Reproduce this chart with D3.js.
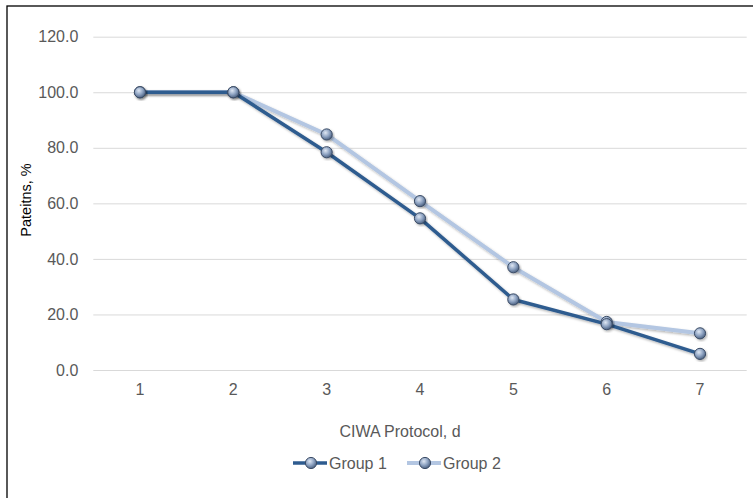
<!DOCTYPE html>
<html>
<head>
<meta charset="utf-8">
<script src="https://cdn.jsdelivr.net/npm/d3@7"></script>
<style>
  body { margin: 0; background: #fff; }
  text { font-family: "Liberation Sans", Arial, sans-serif; }
</style>
</head>
<body>
<div id="chart"></div>
<script>
// data
const days = [1, 2, 3, 4, 5, 6, 7];
const group1 = [100, 100, 78.4, 54.6, 25.4, 16.5, 5.8];
const group2 = [100, 100, 84.8, 60.8, 37.0, 17.3, 13.2];
const yTicks = [0, 20, 40, 60, 80, 100, 120];
const seriesNames = ["Group 1", "Group 2"];
const seriesColors = ["#2e5b8f", "#b3c6e2"];

const width = 753;
const height = 498;
const margin = { top: 36.7, right: 6.3, bottom: 128, left: 93.3 };
const plotW = width - margin.left - margin.right;
const plotH = height - margin.top - margin.bottom;
const fontFam = "Liberation Sans, Arial, sans-serif";

const svg = d3.select("#chart").append("svg")
  .attr("width", width)
  .attr("height", height);

// gradient + shadow for the round markers
const defs = svg.append("defs");
const grad = defs.append("radialGradient")
  .attr("id", "markerGrad")
  .attr("cx", "40%").attr("cy", "35%").attr("r", "65%");
grad.append("stop").attr("offset", "0%").attr("stop-color", "#dfe7f3");
grad.append("stop").attr("offset", "55%").attr("stop-color", "#8ea3c2");
grad.append("stop").attr("offset", "100%").attr("stop-color", "#4d6282");

const shadow = defs.append("filter").attr("id", "shadow")
  .attr("x", "-20%").attr("y", "-20%").attr("width", "140%").attr("height", "140%");
shadow.append("feDropShadow")
  .attr("dx", 1.2).attr("dy", 1.5).attr("stdDeviation", 1.2)
  .attr("flood-color", "#000").attr("flood-opacity", 0.3);

// outer frame (runs off the right and bottom edges)
svg.append("rect")
  .attr("x", 7).attr("y", 6)
  .attr("width", width + 10).attr("height", height + 10)
  .attr("fill", "none")
  .attr("stroke", "#000")
  .attr("stroke-width", 1.3);

const g = svg.append("g")
  .attr("transform", "translate(" + margin.left + "," + margin.top + ")");

const x = d3.scaleBand().domain(days).range([0, plotW]);
const y = d3.scaleLinear().domain([0, 120]).range([plotH, 0]);
const cx = d => x(d) + x.bandwidth() / 2;

// gridlines
g.append("g")
  .call(d3.axisLeft(y).tickValues(yTicks).tickSize(-plotW).tickFormat(""))
  .call(a => a.select(".domain").remove())
  .call(a => a.selectAll("line").attr("stroke", "#d9d9d9").attr("stroke-width", 1));

// y tick labels
g.append("g")
  .call(d3.axisLeft(y).tickValues(yTicks).tickSize(0).tickPadding(15)
    .tickFormat(d3.format(".1f")))
  .call(a => a.select(".domain").remove())
  .call(a => a.selectAll("text")
    .attr("fill", "#595959")
    .style("font-size", "16px")
    .style("font-family", fontFam));

// x tick labels
g.append("g")
  .attr("transform", "translate(0," + plotH + ")")
  .call(d3.axisBottom(x).tickSize(0).tickPadding(14))
  .call(a => a.select(".domain").remove())
  .call(a => a.selectAll("text")
    .attr("fill", "#595959")
    .style("font-size", "16px")
    .style("font-family", fontFam));

// axis titles
svg.append("text")
  .attr("x", 400).attr("y", 437)
  .attr("text-anchor", "middle")
  .attr("fill", "#595959")
  .style("font-size", "16px")
  .text("CIWA Protocol, d");

svg.append("text")
  .attr("transform", "translate(31,200) rotate(-90)")
  .attr("text-anchor", "middle")
  .attr("fill", "#000")
  .style("font-size", "14.5px")
  .text("Pateitns, %");

// lines
const line = d3.line()
  .x((d, i) => cx(days[i]))
  .y(d => y(d));

const allSeries = [group2, group1];
const allColors = [seriesColors[1], seriesColors[0]];
const allWidths = [4, 3.5];

allSeries.forEach(function(s, k) {
  g.append("path")
    .datum(s)
    .attr("fill", "none")
    .attr("stroke", allColors[k])
    .attr("stroke-width", allWidths[k])
    .attr("stroke-linejoin", "round")
    .attr("filter", "url(#shadow)")
    .attr("d", line);
});

allSeries.forEach(function(s) {
  g.append("g").selectAll("circle")
    .data(s)
    .join("circle")
    .attr("cx", (d, i) => cx(days[i]))
    .attr("cy", d => y(d))
    .attr("r", 5.6)
    .attr("fill", "url(#markerGrad)")
    .attr("stroke", "#3b4c66")
    .attr("stroke-width", 1)
    .attr("filter", "url(#shadow)");
});

// legend
const legendX = [293, 407];
const legend = svg.append("g");
seriesNames.forEach(function(name, i) {
  const lg = legend.append("g").attr("transform", "translate(" + legendX[i] + ",463)");
  lg.append("line")
    .attr("x1", 0).attr("x2", 34)
    .attr("stroke", seriesColors[i])
    .attr("stroke-width", i === 0 ? 3.5 : 4);
  lg.append("circle")
    .attr("cx", 18).attr("cy", 0).attr("r", 5.6)
    .attr("fill", "url(#markerGrad)")
    .attr("stroke", "#3b4c66")
    .attr("stroke-width", 1);
  lg.append("text")
    .attr("x", 36).attr("y", 6)
    .attr("fill", "#595959")
    .style("font-size", "16px")
    .text(name);
});
</script>
</body>
</html>
